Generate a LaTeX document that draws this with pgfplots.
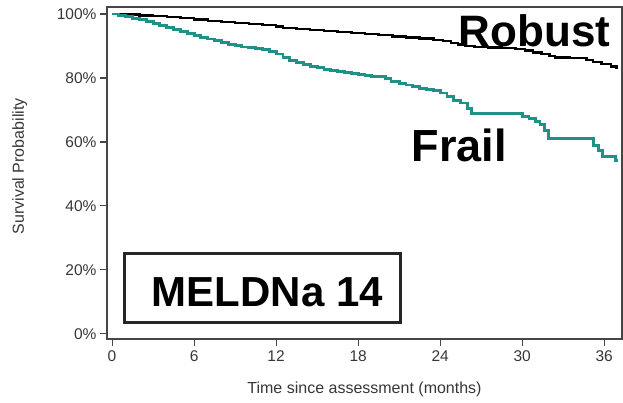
\documentclass[border=0pt]{standalone}
\usepackage{pgfplots}
\pgfplotsset{compat=1.18}
\usepackage{fontspec}
\setmainfont{Liberation Sans}

\definecolor{frailteal}{RGB}{30,146,136}
\definecolor{framegray}{RGB}{70,70,70}
\definecolor{labelgray}{RGB}{55,55,55}

\begin{document}
\begin{tikzpicture}[x=1pt,y=1pt]
\begin{axis}[
  at={(0,0)}, anchor=south west,
  scale only axis,
  width=515pt, height=332pt,
  xmin=-0.37, xmax=37.3,
  ymin=-1.6, ymax=102.2,
  axis line style={framegray, line width=1.2pt},
  xtick={0,6,...,36},
  ytick={0,20,...,100},
  yticklabel={\pgfmathprintnumber{\tick}\%},
  tick align=outside,
  tick pos=left,
  major tick length=7pt,
  tick style={framegray, line width=1.1pt},
  /pgf/number format/assume math mode=true,
  tick label style={font=\fontsize{15.5}{18}\selectfont, text=labelgray},
  xticklabel style={yshift=-1pt},
  label style={font=\fontsize{16}{18}\selectfont, text=labelgray},
  xlabel={Time since assessment (months)},
  ylabel={Survival Probability},
  xlabel style={at={([yshift=-54pt]axis description cs:0.5,0)}, anchor=base},
  ylabel style={at={([xshift=-83pt]axis description cs:0,0.52)}, anchor=base, rotate=0},
  clip=false,
]
% Robust group
\addplot[const plot, black, line width=2.4pt] coordinates {
(0,100) (1,99.8) (2,99.6) (3,99.3) (4,99.0) (5,98.7) (6,98.3) (7,97.9)
(8,97.5) (9,97.2) (10,96.9) (11,96.6) (12,96.1) (12.5,95.6) (13.5,95.3)
(14.5,95.0) (15.5,94.7) (16.5,94.3) (17.5,94.0) (18.5,93.7) (19.5,93.4)
(20.5,93.0) (21.5,92.7) (22.5,92.3) (23.5,91.9) (24.2,91.6) (24.8,91.0)
(25.3,90.5) (25.8,90.0) (26.5,89.7) (27.5,89.5) (28.5,89.3) (29.5,89.0)
(30.2,88.6) (30.8,88.0) (31.4,87.5) (32.0,86.8) (32.4,86.4) (33.5,86.2)
(34.7,85.7) (35.2,85.0) (35.8,84.3) (36.5,83.6) (36.9,83.1) (37.0,83.1)
};
% Frail group
\addplot[const plot, frailteal, line width=2.9pt] coordinates {
(0,100) (0.5,99.6) (1,99.2) (1.5,98.7) (2,98.2) (2.5,97.6) (3,97.0)
(3.5,96.3) (4,95.8) (4.5,95.2) (5,94.6) (5.5,94.0) (6,93.4) (6.5,92.8)
(7,92.2) (7.5,91.6) (8,91.0) (8.5,90.5) (9,90.1) (9.5,89.7) (10,89.4)
(10.5,89.1) (11,88.8) (11.5,88.4) (12,87.5) (12.5,86.5) (13,85.5)
(13.5,84.8) (14,84.2) (14.5,83.7) (15,83.3) (15.5,82.8) (16,82.4)
(16.5,82.0) (17,81.6) (17.5,81.3) (18,81.0) (18.5,80.8) (19,80.6)
(19.5,80.4) (20,79.8) (20.4,78.9) (21,78.4) (21.5,77.8) (22,77.3)
(22.5,76.8) (23,76.4) (23.5,76.0) (24,75.3) (24.5,74.3) (25,73.0)
(25.5,72.2) (26,70.5) (26.3,69.0) (29.8,69.0) (30.0,68.0) (30.5,67.3)
(31.0,66.4) (31.3,65.5) (31.6,63.5) (31.9,61.2) (35.0,61.2) (35.2,59.0)
(35.6,57.2) (35.9,55.4) (36.8,54.2) (37.0,54.2)
};
% group labels
\node[anchor=base, font=\bfseries\fontsize{44}{50}\selectfont] at (axis cs:30.9,89.7) {Robust};
\node[anchor=base, font=\bfseries\fontsize{45}{50}\selectfont] at (axis cs:25.4,53.75) {Frail};
% MELD-Na panel tag
\draw[black!85, line width=3pt] (axis cs:0.88,3.44) rectangle (axis cs:21.07,25);
\node[anchor=base, font=\bfseries\fontsize{42}{48}\selectfont] at (axis cs:11.37,8.44) {MELDNa 14};
\end{axis}
\pgfresetboundingbox
\path[use as bounding box] (-107pt,-63pt) rectangle (516pt,339pt);
\end{tikzpicture}
\end{document}
